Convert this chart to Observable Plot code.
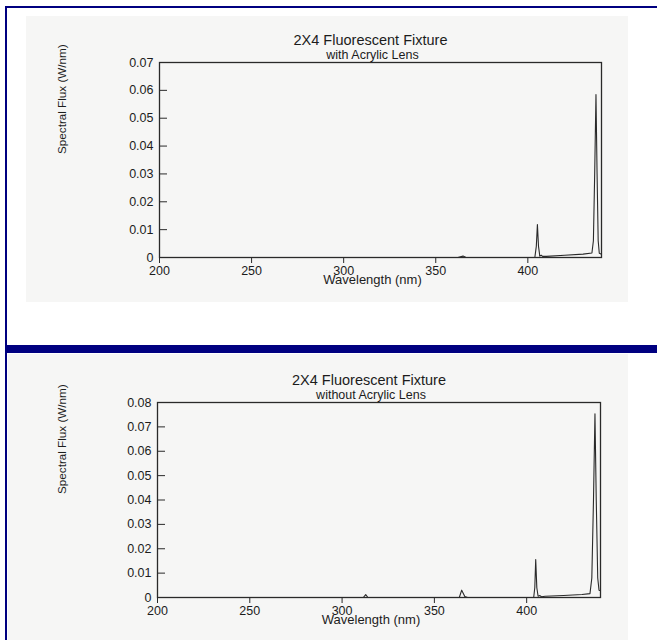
<!DOCTYPE html>
<html>
<head>
<meta charset="utf-8">
<script src="https://cdn.jsdelivr.net/npm/d3@7"></script>
<script src="https://cdn.jsdelivr.net/npm/@observablehq/plot@0.6"></script>
<style>
  html, body { margin: 0; padding: 0; background: #ffffff; }
  #page { position: relative; width: 657px; height: 640px; overflow: hidden; background: #ffffff; font-family: "Liberation Sans", Arial, sans-serif; }
  .scan { position: absolute; background: #f6f6f5; }
  .navy { position: absolute; background: #000080; }
  .panel { position: absolute; left: 0; }
</style>
</head>
<body>
<div id="page">
  <div class="scan" style="left:26px;top:16px;width:602px;height:286px;"></div>
  <div class="scan" style="left:8px;top:354px;width:620px;height:286px;"></div>
  <div class="panel" id="top" style="top:0px;"></div>
  <div class="panel" id="bottom" style="top:340px;"></div>
  <div class="navy" style="left:5px;top:6px;width:652px;height:2px;"></div>
  <div class="navy" style="left:5px;top:6px;width:2px;height:634px;"></div>
  <div class="navy" style="left:5px;top:345px;width:652px;height:8px;"></div>
</div>
<script>
// ---- data ----
const titleText = "2X4 Fluorescent Fixture";
const subtitleLens = "with Acrylic Lens";
const subtitleNoLens = "without Acrylic Lens";
const xLabel = "Wavelength (nm)";
const yLabel = "Spectral Flux (W/nm)";

const xTicks = [200, 250, 300, 350, 400];
const yTicksLens = [0, 0.01, 0.02, 0.03, 0.04, 0.05, 0.06, 0.07];
const yTicksNoLens = [0, 0.01, 0.02, 0.03, 0.04, 0.05, 0.06, 0.07, 0.08];

const wavelengthLens = [200, 260, 320, 362, 364.8, 366.5, 403.8, 404.6, 405.2, 405.8, 406.5, 407.3, 408, 410, 420, 430, 434.8, 435.6, 436.3, 437.0, 437.6, 438.2, 438.8, 440];
const fluxLens       = [0, 0, 0, 0, 0.0005, 0, 0, 0.004, 0.0118, 0.004, 0.0005, 0.0008, 0.0004, 0.0004, 0.0008, 0.0012, 0.0016, 0.006, 0.03, 0.0585, 0.03, 0.006, 0.0015, 0.0012];

const wavelengthNoLens = [200, 250, 300, 311.5, 312.8, 314, 350, 363.5, 364.8, 366.5, 368, 403.8, 404.4, 404.9, 405.5, 406.2, 407.2, 408, 410, 420, 430, 434.3, 435.3, 436.2, 437.0, 437.7, 438.5, 439.2, 440];
const fluxNoLens       = [0, 0, 0, 0, 0.0012, 0, 0, 0, 0.003, 0.0004, 0, 0, 0.004, 0.0156, 0.004, 0.0005, 0.0008, 0.0003, 0.0005, 0.0008, 0.0012, 0.0016, 0.008, 0.04, 0.0754, 0.04, 0.008, 0.003, 0.0028];

// ---- drawing ----
const ink = "#1c1c1c";
const yFmt = d => d === 0 ? "0" : d3.format(".2f")(d);

function panel({wl, flux, yMax, yTicks, subtitle, marginLeft, marginRight}) {
  const rows = wl.map((w, i) => ({w, f: flux[i]}));
  return Plot.plot({
    width: 657,
    height: 300,
    marginTop: 62,
    marginBottom: 43,
    marginLeft,
    marginRight,
    style: {background: "transparent", fontFamily: "'Liberation Sans', Arial, sans-serif", color: ink, fontSize: "12.5px"},
    x: {domain: [200, 440]},
    y: {domain: [0, yMax]},
    marks: [
      Plot.line(rows, {x: "w", y: "f", stroke: "#2a2a2a", strokeWidth: 1.1}),
      Plot.frame({stroke: "#2a2a2a", strokeWidth: 1.3}),
      Plot.axisX(xTicks, {tickSize: 6, tickPadding: 3, label: null, fontSize: 12.5, stroke: "#2a2a2a", fill: ink}),
      Plot.axisY(yTicks, {tickSize: 0, tickPadding: 6, tickFormat: yFmt, label: null, fontSize: 12.5, fill: ink}),
      Plot.axisY(yTicks, {tickSize: 8, dx: 8, fill: "none", label: null, stroke: "#2a2a2a"}),
      Plot.text([titleText], {text: d => d, frameAnchor: "top", lineAnchor: "middle", dx: -10, dy: -22.5, fontSize: 14.5, fill: ink}),
      Plot.text([subtitle], {text: d => d, frameAnchor: "top", lineAnchor: "middle", dx: -8, dy: -8, fontSize: 12.5, fill: ink}),
      Plot.text([xLabel], {text: d => d, frameAnchor: "bottom", lineAnchor: "middle", dx: -8, dy: 22, fontSize: 13, fill: ink}),
      Plot.text([yLabel], {text: d => d, frameAnchor: "left", lineAnchor: "middle", rotate: -90, dx: -(marginLeft - 62), dy: -6, fontSize: 11.7, fill: ink})
    ]
  });
}

document.getElementById("top").appendChild(panel({
  wl: wavelengthLens, flux: fluxLens, yMax: 0.07, yTicks: yTicksLens,
  subtitle: subtitleLens, marginLeft: 159, marginRight: 56
}));
document.getElementById("bottom").appendChild(panel({
  wl: wavelengthNoLens, flux: fluxNoLens, yMax: 0.08, yTicks: yTicksNoLens,
  subtitle: subtitleNoLens, marginLeft: 157, marginRight: 57
}));
</script>
</body>
</html>
